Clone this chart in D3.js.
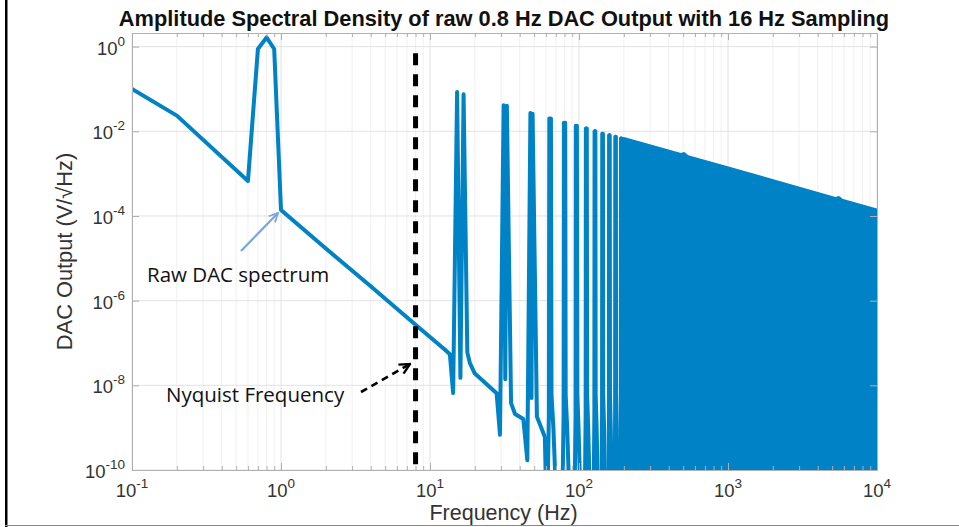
<!DOCTYPE html>
<html>
<head>
<meta charset="utf-8">
<script src="https://cdn.jsdelivr.net/npm/d3@7"></script>
<style>
  body { margin: 0; background: #fff; }
  #chart { width: 959px; height: 527px; }
  .grid-minor line { stroke: #f0f0f0; }
  .grid-major line { stroke: #e2e2e2; }
  .axis path, .axis line { stroke: #b0b0b0; }
  .tick-label { font-family: "Liberation Sans", Arial, sans-serif; fill: #333; }
  .note { font-family: "Open Sans", sans-serif; font-size: 20.5px; fill: #111; }
</style>
</head>
<body>
<div id="chart"></div>
<script>
// Values

// baseband tone, its skirt and the first three image pairs (Hz, V/sqrt(Hz))
var traceFreq = [0.1, 0.2, 0.6, 0.7, 0.8, 0.9, 1, 2, 4, 8, 12.5, 13.6, 14.3, 15.2, 16.0, 16.8,
                 17.8, 18.5, 20, 28, 29.5, 31.2, 32.0, 32.8, 35.0, 37.2, 42.3, 45.0, 47.2, 48.0,
                 48.8, 52.2, 55.5, 59.0, 60.5];
var traceAmp  = [0.1, 0.0235, 6.7e-4, 0.88, 1.65, 0.88, 1.39e-4, 1.7e-5, 2.2e-6, 2.7e-7, 7.1e-8, 5.4e-8, 6.6e-9, 0.085, 1.5e-8, 0.075,
                 6e-8, 3.4e-8, 1.9e-8, 6.5e-9, 6.8e-10, 0.041, 1.4e-8, 0.040, 3.8e-9, 2.1e-9, 1.6e-9, 1.7e-10, 0.027, 5e-9,
                 0.026, 1.8e-9, 1.05e-9, 6e-10, 1e-11];

// higher image pairs around k*16 Hz
var aliasLo   = [63.2, 79.2, 95.2, 111.2, 127.2, 143.2, 159.2, 175.2, 191.2];
var aliasHi   = [64.8, 80.8, 96.8, 112.8, 128.8, 144.8, 160.8, 176.8, 192.8];
var aliasPeak = [0.020, 0.016, 0.0135, 0.0116, 0.0101, 0.0088, 0.0081, 0.0074, 0.0068];

// above ~200 Hz the images merge into a solid band, only its top edge is readable
var bandFreq = [199, 480, 505, 530, 1000, 5300, 5530, 5800, 10000];
var bandTop  = [6.6e-3, 2.75e-3, 2.9e-3, 2.5e-3, 1.33e-3, 2.5e-4, 2.65e-4, 2.3e-4, 1.35e-4];

var nyquistHz  = 8;
var nyquistTop = 0.7;
var floorAmp   = 1e-11;

var xTicks = [0.1, 1, 10, 100, 1000, 10000];
var xTickExp = ['-1', '0', '1', '2', '3', '4'];
var yTicks = [1e-10, 1e-8, 1e-6, 1e-4, 1e-2, 1];
var yTickExp = ['-10', '-8', '-6', '-4', '-2', '0'];

var titleText = 'Amplitude Spectral Density of raw 0.8 Hz DAC Output with 16 Hz Sampling';
var xLabel = 'Frequency (Hz)';
var yLabel = 'DAC Output (V/\u221AHz)';

var SpectrumChart = function(_id) {

  var that = this;

  that.id = _id;
  that.margin = {top: 33, right: 82, bottom: 57, left: 132};
  that.widthCont = 959;
  that.heightCont = 527;
  that.width = that.widthCont - that.margin.left - that.margin.right;
  that.height = that.heightCont - that.margin.top - that.margin.bottom;
  that.blue = '#0082c6';

  that.init = function() {

    that.x = d3.scaleLog().domain([0.1, 1e4]).range([0, that.width]);
    that.y = d3.scaleLog().domain([1e-10, 2.1]).range([that.height, 0]);

    that.svg = d3.select('#' + that.id).append('svg')
      .attr('width', that.widthCont)
      .attr('height', that.heightCont);

    // slide frame
    that.svg.append('rect')
      .attr('x', 5).attr('y', 0).attr('width', 2.5).attr('height', that.heightCont)
      .attr('fill', '#000');
    that.svg.append('line')
      .attr('x1', 5).attr('x2', that.widthCont).attr('y1', 525.5).attr('y2', 525.5)
      .attr('stroke', '#8a8a8a').attr('stroke-width', 1.2);

    that.container = that.svg.append('g')
      .attr('transform', 'translate(' + that.margin.left + ',' + that.margin.top + ')');

    that.svg.append('defs').append('clipPath').attr('id', 'plot-clip')
      .append('rect').attr('width', that.width).attr('height', that.height);

    drawGrid();
    drawSpectrum();
    drawNyquist();
    drawAxes();
    drawLabels();
    drawNotes();

    return that;
  };

  var drawGrid = function() {
    var all = that.x.ticks();
    var minor = all.filter(function(d) { return xTicks.indexOf(d) < 0; });

    that.container.append('g').attr('class', 'grid-minor')
      .selectAll('line').data(minor)
    .enter().append('line')
      .attr('x1', function(d) { return that.x(d); })
      .attr('x2', function(d) { return that.x(d); })
      .attr('y1', 0).attr('y2', that.height);

    var major = that.container.append('g').attr('class', 'grid-major');
    major.selectAll('.gx').data(xTicks)
    .enter().append('line').attr('class', 'gx')
      .attr('x1', function(d) { return that.x(d); })
      .attr('x2', function(d) { return that.x(d); })
      .attr('y1', 0).attr('y2', that.height);
    major.selectAll('.gy').data(yTicks)
    .enter().append('line').attr('class', 'gy')
      .attr('x1', 0).attr('x2', that.width)
      .attr('y1', function(d) { return that.y(d); })
      .attr('y2', function(d) { return that.y(d); });
  };

  var drawSpectrum = function() {
    var g = that.container.append('g').attr('clip-path', 'url(#plot-clip)');

    var line = d3.line()
      .x(function(d) { return that.x(d[0]); })
      .y(function(d) { return that.y(d[1]); });

    var trace = traceFreq.map(function(f, i) { return [f, traceAmp[i]]; });

    var aliases = aliasLo.map(function(lo, i) {
      var hi = aliasHi[i], pk = aliasPeak[i];
      return [[lo - 2, floorAmp], [lo - 0.4, 2e-9], [lo, pk], [(lo + hi) / 2, 5e-9],
              [hi, pk], [hi + 0.6, 6e-9], [hi + 2.5, 1e-9], [hi + 6, floorAmp]];
    });

    var band = bandFreq.map(function(f, i) { return [f, bandTop[i]]; });

    var area = d3.area()
      .x(function(d) { return that.x(d[0]); })
      .y0(that.height + 5)
      .y1(function(d) { return that.y(d[1]); });

    g.append('path')
      .datum(band)
      .attr('d', area)
      .attr('fill', that.blue)
      .attr('stroke', that.blue)
      .attr('stroke-width', 4)
      .attr('stroke-linejoin', 'round');

    g.selectAll('.alias').data(aliases)
    .enter().append('path')
      .attr('class', 'alias')
      .attr('d', line)
      .attr('fill', 'none')
      .attr('stroke', that.blue)
      .attr('stroke-width', 4)
      .attr('stroke-linejoin', 'round');

    g.append('path')
      .datum(trace)
      .attr('d', line)
      .attr('fill', 'none')
      .attr('stroke', that.blue)
      .attr('stroke-width', 4)
      .attr('stroke-linejoin', 'round');
  };

  var drawNyquist = function() {
    that.container.append('line')
      .attr('x1', that.x(nyquistHz)).attr('x2', that.x(nyquistHz))
      .attr('y1', that.y(nyquistTop)).attr('y2', that.height)
      .attr('stroke', '#000')
      .attr('stroke-width', 5)
      .attr('stroke-dasharray', '12,9');
  };

  var drawAxes = function() {
    var minor = that.x.ticks().filter(function(d) { return xTicks.indexOf(d) < 0; });

    // bottom and top: major ticks pointing in, minor ticks shorter
    that.container.append('g').attr('class', 'axis')
      .attr('transform', 'translate(0,' + that.height + ')')
      .call(d3.axisBottom(that.x).tickValues(xTicks).tickSize(-7).tickFormat(''));
    that.container.append('g').attr('class', 'axis')
      .call(d3.axisTop(that.x).tickValues(xTicks).tickSize(-7).tickFormat(''));
    that.container.append('g').attr('class', 'axis')
      .attr('transform', 'translate(0,' + that.height + ')')
      .call(d3.axisBottom(that.x).tickValues(minor).tickSize(-4).tickSizeOuter(0).tickFormat(''))
      .select('.domain').remove();
    that.container.append('g').attr('class', 'axis')
      .call(d3.axisTop(that.x).tickValues(minor).tickSize(-4).tickSizeOuter(0).tickFormat(''))
      .select('.domain').remove();

    that.container.append('g').attr('class', 'axis')
      .call(d3.axisLeft(that.y).tickValues(yTicks).tickSize(-7).tickFormat(''));
    that.container.append('g').attr('class', 'axis')
      .attr('transform', 'translate(' + that.width + ',0)')
      .call(d3.axisRight(that.y).tickValues(yTicks).tickSize(-7).tickFormat(''));

    // power-of-ten labels
    var xl = that.container.append('g').selectAll('text').data(xTicks)
    .enter().append('text')
      .attr('class', 'tick-label')
      .attr('x', function(d) { return that.x(d); })
      .attr('y', that.height + 27)
      .attr('text-anchor', 'middle');
    xl.append('tspan').style('font-size', '18.5px').text('10');
    xl.append('tspan').style('font-size', '13.5px').attr('dy', -9)
      .text(function(d, i) { return xTickExp[i]; });

    var yl = that.container.append('g').selectAll('text').data(yTicks)
    .enter().append('text')
      .attr('class', 'tick-label')
      .attr('x', -7)
      .attr('y', function(d) { return that.y(d) + 8; })
      .attr('text-anchor', 'end');
    yl.append('tspan').style('font-size', '18.5px').text('10');
    yl.append('tspan').style('font-size', '13.5px').attr('dy', -9)
      .text(function(d, i) { return yTickExp[i]; });
  };

  var drawLabels = function() {
    that.svg.append('text')
      .attr('x', 504).attr('y', 26)
      .attr('text-anchor', 'middle')
      .style('font-family', '"Liberation Sans", Arial, sans-serif')
      .style('font-weight', 'bold')
      .style('font-size', '21.8px')
      .style('fill', '#111')
      .text(titleText);

    that.svg.append('text')
      .attr('x', that.margin.left + that.width / 2 - 1).attr('y', 520)
      .attr('text-anchor', 'middle')
      .style('font-family', '"Liberation Sans", Arial, sans-serif')
      .style('font-size', '21.5px')
      .style('fill', '#333')
      .text(xLabel);

    that.svg.append('text')
      .attr('transform', 'translate(72,' + (that.margin.top + that.height / 2) + ') rotate(-90)')
      .attr('text-anchor', 'middle')
      .style('font-family', '"Liberation Sans", Arial, sans-serif')
      .style('font-size', '21.8px')
      .style('fill', '#333')
      .text(yLabel);
  };

  // callouts pasted on top of the figure
  var drawNotes = function() {
    var defs = that.svg.select('defs');
    defs.append('marker').attr('id', 'head-blue')
      .attr('viewBox', '0 0 10 10').attr('refX', 9).attr('refY', 5)
      .attr('markerWidth', 5).attr('markerHeight', 5).attr('orient', 'auto')
      .append('path').attr('d', 'M1,1 L9,5 L1,9').attr('fill', 'none')
      .attr('stroke', '#7aa6da').attr('stroke-width', 1.6);
    defs.append('marker').attr('id', 'head-black')
      .attr('viewBox', '0 0 10 10').attr('refX', 9).attr('refY', 5)
      .attr('markerWidth', 5).attr('markerHeight', 5).attr('orient', 'auto')
      .append('path').attr('d', 'M1,1 L9,5 L1,9').attr('fill', 'none')
      .attr('stroke', '#000').attr('stroke-width', 1.8);

    that.svg.append('line')
      .attr('x1', 241).attr('y1', 251).attr('x2', 278).attr('y2', 213)
      .attr('stroke', '#7aa6da').attr('stroke-width', 2.2)
      .attr('marker-end', 'url(#head-blue)');
    that.svg.append('text').attr('class', 'note')
      .attr('x', 147).attr('y', 282)
      .text('Raw DAC spectrum');

    that.svg.append('line')
      .attr('x1', 361).attr('y1', 392).attr('x2', 410).attr('y2', 364)
      .attr('stroke', '#000').attr('stroke-width', 2.6)
      .attr('stroke-dasharray', '7,5')
      .attr('marker-end', 'url(#head-black)');
    that.svg.append('text').attr('class', 'note')
      .attr('x', 166).attr('y', 402)
      .text('Nyquist Frequency');
  };

  return that;
};

new SpectrumChart('chart').init();
</script>
</body>
</html>
